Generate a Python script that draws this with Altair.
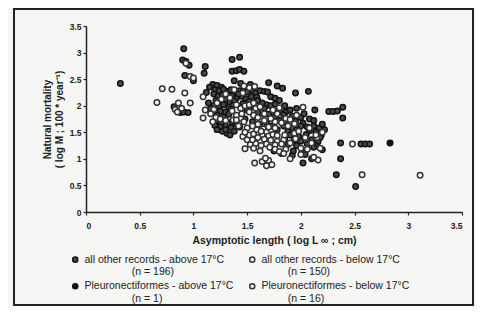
import altair as alt
import pandas as pd

IND1 = "\u200b" + "\u2002" * 9
IND2 = "\u200b" + "\u2002" * 5
groups = [
    "all other records - above 17°C|" + IND1 + "(n = 196)",
    "Pleuronectiformes  - above 17°C|" + IND1 + "(n = 1)",
    "all other records - below 17°C|" + IND2 + "(n = 150)",
    "Pleuronectiformes  - below 17°C|" + IND2 + "(n = 16)",
]
fills = ["#4a4a4a", "#111111", "#f8f8f6", "#f8f8f6"]
strokes = ["#111111", "#111111", "#333333", "#333333"]

above_other = [
    (0.32, 2.42), (0.88, 1.87), (0.91, 1.88), (0.95, 1.87), (0.82, 1.98), (0.91, 3.07),
    (0.90, 2.86), (0.93, 2.83), (0.96, 2.76), (0.92, 2.57), (1.00, 2.47), (1.10, 2.61),
    (1.11, 2.74), (1.36, 2.87), (1.43, 2.91), (1.36, 2.65), (1.40, 2.66), (1.43, 2.68),
    (1.47, 2.65), (1.38, 2.47), (1.44, 2.42), (1.53, 2.40), (1.70, 2.43), (1.78, 2.37),
    (1.83, 2.33), (1.72, 2.17), (1.95, 2.24), (2.07, 2.27), (2.13, 1.92), (2.26, 1.89),
    (2.30, 1.89), (2.34, 1.90), (2.39, 1.97), (2.39, 1.77), (2.37, 1.30), (2.37, 1.00),
    (2.33, 0.70), (2.51, 0.48), (2.56, 1.28), (2.60, 1.28), (2.64, 1.28), (2.20, 1.17),
    (2.10, 1.00), (2.02, 0.92), (1.92, 1.07), (2.01, 1.10), (2.04, 1.08), (1.93, 1.15),
    (1.18, 2.40), (1.22, 2.38), (1.26, 2.35), (1.20, 2.30), (1.24, 2.28), (1.28, 2.31),
    (1.32, 2.27), (1.35, 2.30), (1.39, 2.24), (1.43, 2.28), (1.47, 2.31), (1.50, 2.26),
    (1.55, 2.29), (1.58, 2.24), (1.62, 2.28), (1.66, 2.27), (1.69, 2.26), (1.19, 2.22),
    (1.23, 2.18), (1.27, 2.20), (1.31, 2.16), (1.36, 2.19), (1.40, 2.14), (1.45, 2.18),
    (1.49, 2.13), (1.54, 2.17), (1.59, 2.16), (1.76, 2.14), (1.21, 2.10), (1.26, 2.07),
    (1.30, 2.12), (1.34, 2.06), (1.38, 2.09), (1.46, 2.04), (1.52, 2.08), (1.19, 2.00),
    (1.24, 1.98), (1.28, 2.02), (1.33, 1.97), (1.37, 2.01), (1.68, 2.02), (1.72, 2.00),
    (1.76, 2.03), (1.66, 1.95), (1.50, 1.92), (1.25, 1.90), (1.30, 1.88), (1.35, 1.93),
    (1.80, 1.90), (1.86, 1.88), (1.90, 1.92), (1.22, 1.82), (1.28, 1.79), (1.33, 1.84),
    (1.70, 1.84), (1.76, 1.80), (1.84, 1.83), (1.92, 1.80), (2.00, 1.78), (1.21, 1.72),
    (1.26, 1.68), (1.80, 1.72), (1.86, 1.69), (1.95, 1.71), (2.02, 1.67), (1.20, 1.63),
    (1.25, 1.60), (1.30, 1.62), (1.35, 1.59), (1.43, 1.60), (1.40, 1.65), (1.84, 1.62),
    (1.92, 1.58), (2.00, 1.62), (2.06, 1.60), (2.12, 1.62), (2.17, 1.58), (2.20, 1.65),
    (1.22, 1.55), (1.27, 1.52), (1.31, 1.48), (1.34, 1.45), (1.30, 1.55), (1.78, 1.55),
    (1.88, 1.52), (1.96, 1.55), (2.08, 1.53), (2.14, 1.50), (2.22, 1.55), (2.19, 1.45),
    (1.90, 1.45), (1.98, 1.42), (2.05, 1.46), (1.85, 1.38), (1.94, 1.36), (2.00, 1.33),
    (2.10, 1.36), (2.16, 1.32), (2.18, 1.40), (1.72, 1.62), (1.62, 1.62), (1.68, 1.68),
    (1.88, 1.27), (1.96, 1.25), (2.06, 1.28), (2.14, 1.25), (1.82, 1.10), (1.75, 1.15),
    (2.12, 1.22), (1.64, 1.82), (1.60, 1.88), (1.56, 1.98), (1.44, 1.96), (1.42, 2.22),
    (1.12, 2.25), (1.14, 2.05), (1.16, 1.95), (1.15, 2.35), (1.60, 2.10), (1.64, 2.05),
    (1.80, 2.10), (1.85, 2.00), (1.96, 1.95), (2.03, 1.85), (2.08, 1.75), (2.12, 1.72),
    (1.55, 1.70), (1.48, 1.75), (1.38, 1.52), (1.36, 1.70),
]

below_other = [
    (0.66, 2.06), (0.71, 2.32), (0.80, 2.31), (0.83, 1.93), (0.86, 2.05), (0.85, 1.88),
    (0.92, 2.24), (0.97, 2.05), (0.97, 2.55), (1.00, 2.52), (1.09, 2.17), (1.11, 1.92),
    (1.09, 1.77), (0.93, 2.80), (0.89, 1.95), (1.68, 0.87), (1.64, 0.95), (1.70, 0.97),
    (1.19, 1.93), (1.21, 1.78), (1.25, 1.75), (1.30, 1.72), (1.37, 1.73), (1.44, 1.76),
    (1.47, 1.70), (1.46, 1.42), (1.50, 1.36), (1.52, 1.45), (1.56, 1.47), (1.59, 1.55),
    (1.65, 1.56), (1.68, 1.50), (1.63, 1.75), (1.66, 1.72), (1.44, 1.95), (1.48, 2.00),
    (1.52, 2.02), (1.56, 2.05), (1.45, 1.85), (1.52, 1.88), (1.56, 1.82), (1.64, 1.45),
    (1.70, 1.43), (1.74, 1.46), (1.78, 1.44), (1.66, 1.37), (1.72, 1.35), (1.78, 1.33),
    (1.84, 1.36), (1.53, 1.27), (1.58, 1.29), (1.63, 1.25), (1.68, 1.28), (1.76, 1.26),
    (1.82, 1.28), (1.90, 1.30), (1.48, 1.19), (1.62, 1.15), (1.76, 1.18), (1.80, 1.14),
    (1.86, 1.18), (1.90, 1.00), (2.16, 0.98), (2.12, 1.03), (2.00, 1.20), (2.06, 1.18),
    (2.10, 1.30), (2.15, 1.40), (2.04, 1.40), (1.94, 1.48), (1.94, 1.66), (1.98, 1.52),
    (1.82, 1.68), (1.76, 1.70), (1.72, 1.76), (1.78, 1.85), (1.86, 1.76), (1.90, 1.74),
    (1.96, 1.82), (1.74, 1.92), (1.80, 1.96), (1.60, 1.65), (1.55, 1.62), (1.50, 1.58),
    (1.42, 1.62), (1.40, 1.82), (1.36, 1.90), (1.40, 2.02), (1.34, 2.15), (1.38, 2.30),
    (1.46, 2.24), (1.52, 2.34), (1.57, 2.36), (1.47, 2.37), (1.30, 2.22), (1.26, 2.12),
    (1.22, 2.05), (1.16, 1.85), (1.18, 1.70), (2.08, 1.58), (2.14, 1.45), (2.20, 1.50),
    (2.18, 1.20), (2.00, 1.08), (1.85, 1.45), (1.60, 1.40), (1.55, 1.36), (1.70, 1.60),
    (1.76, 1.58), (1.66, 1.85), (1.58, 1.95), (1.62, 1.98),
]

above_pleuro = [(2.83, 1.30)]

below_pleuro = [
    (3.11, 0.69), (2.57, 0.70), (2.48, 1.28), (1.57, 0.92), (1.73, 0.89), (1.67, 1.01),
    (1.40, 1.73), (1.88, 1.62), (1.60, 1.78), (1.48, 1.50), (1.95, 1.38), (2.02, 1.97),
    (1.84, 1.10), (1.56, 1.20), (1.71, 1.22), (1.63, 1.52),
]

rows = []
for g, pts in [(groups[0], above_other), (groups[2], below_other),
               (groups[3], below_pleuro), (groups[1], above_pleuro)]:
    for x, y in pts:
        rows.append({"length": x, "mortality": y, "group": g})
df = pd.DataFrame(rows)

ticks = [0, 0.5, 1, 1.5, 2, 2.5, 3, 3.5]
FONT = "Liberation Sans"

legend = alt.Legend(
    title=None, orient="none", legendX=-16, legendY=228, columns=2,
    columnPadding=9, rowPadding=2, symbolType="circle", symbolSize=26,
    symbolStrokeWidth=1.5, labelFont=FONT, labelFontSize=10.5, labelLimit=0,
    labelOffset=4, labelExpr="split(datum.label, '|')", labelColor="#222",
)

points = alt.Chart(df).mark_point(
    shape="circle", filled=True, size=30, strokeWidth=1.5, opacity=1
).encode(
    x=alt.X("length:Q", scale=alt.Scale(domain=[0, 3.5], nice=False),
            axis=alt.Axis(values=ticks, format="~g",
                          title="Asymptotic length ( log L ∞ ; cm)")),
    y=alt.Y("mortality:Q", scale=alt.Scale(domain=[0, 3.5], nice=False),
            axis=alt.Axis(values=ticks, format="~g",
                          title=["Natural mortality", "( log M ; 100 * year⁻¹)"])),
    fill=alt.Fill("group:N", scale=alt.Scale(domain=groups, range=fills), legend=legend),
    stroke=alt.Stroke("group:N", scale=alt.Scale(domain=groups, range=strokes), legend=legend),
)

frame = alt.Chart(pd.DataFrame({"k": [0]})).mark_rect(
    fillOpacity=0, stroke="#222", strokeWidth=2
).encode(x=alt.value(-72), x2=alt.value(387), y=alt.value(-17), y2=alt.value(279))

chart = alt.layer(points, frame).properties(
    width=376, height=186,
    autosize=alt.AutoSizeParams(type="none"),
    padding={"left": 78, "top": 18, "right": 13, "bottom": 94},
    background="#f6f6f4",
).configure_view(stroke=None).configure_axis(
    grid=False, domainColor="#222", domainWidth=1.5, tickColor="#222",
    tickSize=3, tickWidth=1.2, labelFont=FONT, labelFontSize=8.5,
    labelFontWeight="bold", labelColor="#222", labelPadding=2,
    titleFont=FONT, titleFontSize=10.5, titleFontWeight="bold", titleColor="#222",
).configure_axisX(titlePadding=6, labelPadding=6).configure_axisY(titlePadding=5, titleFontSize=10)

chart.save("out.html", embed_options={"renderer": "svg", "actions": False})
